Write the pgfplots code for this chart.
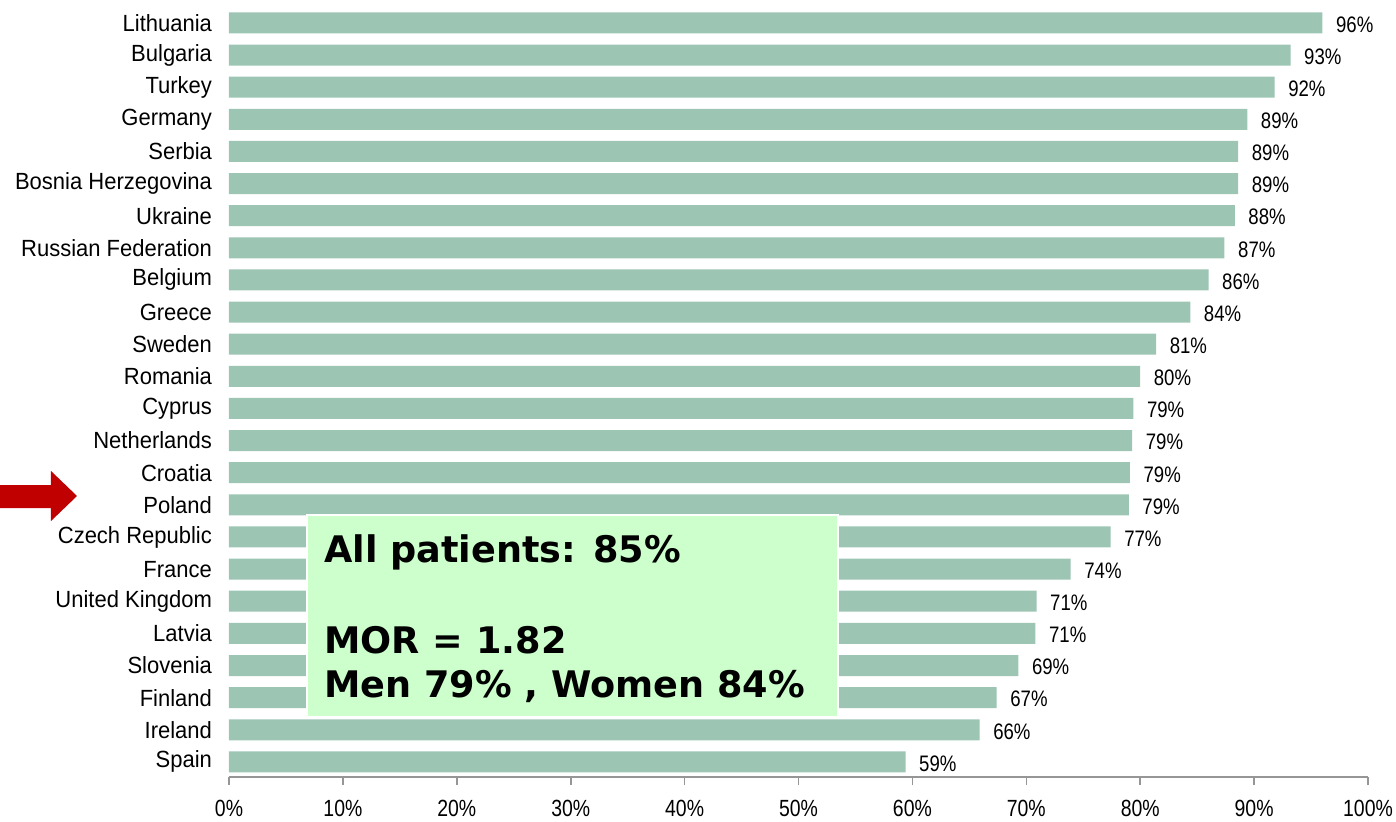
\documentclass[border=0pt]{standalone}
\usepackage{fontspec}
\setmainfont{Liberation Sans}
\newfontfamily\namefont{Liberation Sans}[FakeStretch=0.94]
\newfontfamily\numfont{Liberation Sans}[FakeStretch=0.83]
\newfontfamily\boxfont{DejaVu Sans}
\usepackage{pgfplots}
\usepackage{pgfplotstable}
\pgfplotsset{compat=1.18}

\definecolor{barcol}{RGB}{157,197,180}
\definecolor{boxfill}{RGB}{204,255,204}
\definecolor{arrowred}{RGB}{192,0,0}
\definecolor{axisgray}{RGB}{150,150,150}

% share of patients per country, bottom (Spain) to top (Lithuania)
\pgfplotstableread{
idx val
0  59.4
1  65.9
2  67.4
3  69.3
4  70.8
5  70.9
6  73.9
7  77.4
8  79.0
9  79.1
10 79.3
11 79.4
12 80.0
13 81.4
14 84.4
15 86.0
16 87.4
17 88.3
18 88.6
19 88.6
20 89.4
21 91.8
22 93.2
23 96.0
}\datatable

\begin{document}
\begin{tikzpicture}
\begin{axis}[
  at={(0,0)}, anchor=south west,
  scale only axis, width=569.5pt, height=385.1pt,
  xmin=0, xmax=100, ymin=-0.47, ymax=23.5,
  xbar, bar width=10.5pt,
  axis lines*=left,
  y axis line style={draw=none},
  x axis line style={axisgray, line width=0.8pt},
  xtick={0,10,...,100},
  xticklabels={0\%,10\%,20\%,30\%,40\%,50\%,60\%,70\%,80\%,90\%,100\%},
  xtick style={axisgray, line width=0.8pt},
  tick align=outside, major tick length=4pt,
  ytick={0,...,23},
  ytick style={draw=none},
  yticklabels={Spain,Ireland,Finland,Slovenia,Latvia,United Kingdom,France,Czech Republic,Poland,Croatia,Netherlands,Cyprus,Romania,Sweden,Greece,Belgium,Russian Federation,Ukraine,Bosnia Herzegovina,Serbia,Germany,Turkey,Bulgaria,Lithuania},
  yticklabel style={font=\namefont\fontsize{11.7}{13}\selectfont, text=black, xshift=-1pt},
  xticklabel style={font=\numfont\fontsize{11.7}{13}\selectfont, text=black, yshift=-4pt},
  /pgf/number format/assume math mode=true,
  point meta=x,
  nodes near coords={\pgfmathprintnumber[fixed,precision=0]{\pgfplotspointmeta}\%},
  every node near coord/.append style={font=\numfont\fontsize{11.2}{13}\selectfont, text=black, anchor=west, xshift=3.3pt, yshift=-0.8pt},
  clip=false,
]
\addplot[fill=barcol, draw=none] table[x=val, y=idx] {\datatable};

% summary box
\fill[boxfill, draw=white, line width=1pt] (axis cs:6.85,1.40) rectangle (axis cs:53.5,7.68);
\node[anchor=base west, inner sep=0, font=\boxfont\bfseries\fontsize{18.3}{22}\selectfont] at (axis cs:8.34,6.22) {All patients: 85\%};
\node[anchor=base west, inner sep=0, font=\boxfont\bfseries\fontsize{18.3}{22}\selectfont] at (axis cs:8.34,3.36) {MOR = 1.82};
\node[anchor=base west, inner sep=0, font=\boxfont\bfseries\fontsize{18.3}{22}\selectfont] at (axis cs:8.34,1.99) {Men 79\% , Women 84\%};
\end{axis}

% pointer arrow
\fill[arrowred] (-114.5pt,146pt) -- (-89pt,146pt) -- (-89pt,153pt) -- (-76pt,140.5pt)
  -- (-89pt,128pt) -- (-89pt,134.5pt) -- (-114.5pt,134.5pt) -- cycle;

\pgfresetboundingbox
\path (-114.5pt,-22pt) rectangle (583.5pt,388.5pt);
\end{tikzpicture}
\end{document}
